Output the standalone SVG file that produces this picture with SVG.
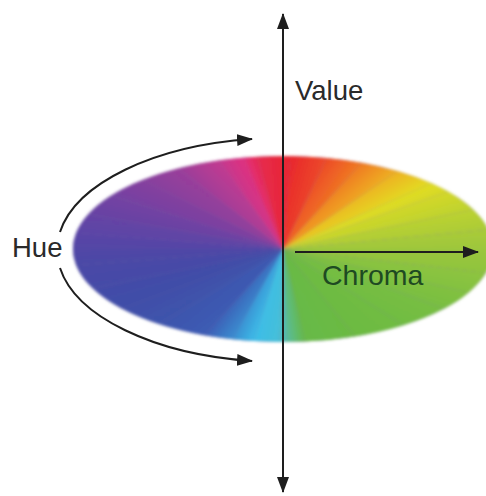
<svg xmlns="http://www.w3.org/2000/svg" width="486" height="496" viewBox="0 0 486 496">
<style>
.axis{stroke:#1e1e1e;stroke-width:2;fill:none}
.lbl{font-family:"Liberation Sans",Arial,sans-serif;font-size:27.5px}
</style>
<defs>
<filter id="soft" x="-5%" y="-10%" width="110%" height="120%"><feGaussianBlur stdDeviation="1.5"/></filter>
<marker id="ah" viewBox="0 0 16 12" refX="15" refY="6" markerWidth="16" markerHeight="12" markerUnits="userSpaceOnUse" orient="auto-start-reverse"><path d="M0,0 L16,6 L0,12 Z" fill="#1e1e1e"/></marker>
<linearGradient id="w1" gradientUnits="userSpaceOnUse" x1="100" y1="0" x2="96.59" y2="25.88"><stop offset="0" stop-color="#9cc63c"/><stop offset="1" stop-color="#8ec43e"/></linearGradient>
<linearGradient id="w2" gradientUnits="userSpaceOnUse" x1="96.59" y1="25.88" x2="88.29" y2="46.95"><stop offset="0" stop-color="#8ec43e"/><stop offset="1" stop-color="#82c140"/></linearGradient>
<linearGradient id="w3" gradientUnits="userSpaceOnUse" x1="88.29" y1="46.95" x2="76.6" y2="64.28"><stop offset="0" stop-color="#82c140"/><stop offset="1" stop-color="#78be42"/></linearGradient>
<linearGradient id="w4" gradientUnits="userSpaceOnUse" x1="76.6" y1="64.28" x2="57.36" y2="81.92"><stop offset="0" stop-color="#78be42"/><stop offset="1" stop-color="#70bc42"/></linearGradient>
<linearGradient id="w5" gradientUnits="userSpaceOnUse" x1="57.36" y1="81.92" x2="34.2" y2="93.97"><stop offset="0" stop-color="#70bc42"/><stop offset="1" stop-color="#6cba42"/></linearGradient>
<linearGradient id="w6" gradientUnits="userSpaceOnUse" x1="34.2" y1="93.97" x2="10.45" y2="99.45"><stop offset="0" stop-color="#6cba42"/><stop offset="1" stop-color="#66b948"/></linearGradient>
<linearGradient id="w7" gradientUnits="userSpaceOnUse" x1="10.45" y1="99.45" x2="1.75" y2="99.98"><stop offset="0" stop-color="#66b948"/><stop offset="1" stop-color="#58bca0"/></linearGradient>
<linearGradient id="w8" gradientUnits="userSpaceOnUse" x1="1.75" y1="99.98" x2="-1.75" y2="99.98"><stop offset="0" stop-color="#58bca0"/><stop offset="1" stop-color="#46c0d8"/></linearGradient>
<linearGradient id="w9" gradientUnits="userSpaceOnUse" x1="-1.75" y1="99.98" x2="-13.92" y2="99.03"><stop offset="0" stop-color="#46c0d8"/><stop offset="1" stop-color="#3cbce8"/></linearGradient>
<linearGradient id="w10" gradientUnits="userSpaceOnUse" x1="-13.92" y1="99.03" x2="-24.19" y2="97.03"><stop offset="0" stop-color="#3cbce8"/><stop offset="1" stop-color="#3a8cd0"/></linearGradient>
<linearGradient id="w11" gradientUnits="userSpaceOnUse" x1="-24.19" y1="97.03" x2="-37.46" y2="92.72"><stop offset="0" stop-color="#3a8cd0"/><stop offset="1" stop-color="#3c5cb4"/></linearGradient>
<linearGradient id="w12" gradientUnits="userSpaceOnUse" x1="-37.46" y1="92.72" x2="-58.78" y2="80.9"><stop offset="0" stop-color="#3c5cb4"/><stop offset="1" stop-color="#3e54ac"/></linearGradient>
<linearGradient id="w13" gradientUnits="userSpaceOnUse" x1="-58.78" y1="80.9" x2="-76.6" y2="64.28"><stop offset="0" stop-color="#3e54ac"/><stop offset="1" stop-color="#3f4ea8"/></linearGradient>
<linearGradient id="w14" gradientUnits="userSpaceOnUse" x1="-76.6" y1="64.28" x2="-90.63" y2="42.26"><stop offset="0" stop-color="#3f4ea8"/><stop offset="1" stop-color="#444ba7"/></linearGradient>
<linearGradient id="w15" gradientUnits="userSpaceOnUse" x1="-90.63" y1="42.26" x2="-98.48" y2="17.36"><stop offset="0" stop-color="#444ba7"/><stop offset="1" stop-color="#4a48a6"/></linearGradient>
<linearGradient id="w16" gradientUnits="userSpaceOnUse" x1="-98.48" y1="17.36" x2="-100" y2="0"><stop offset="0" stop-color="#4a48a6"/><stop offset="1" stop-color="#5246a6"/></linearGradient>
<linearGradient id="w17" gradientUnits="userSpaceOnUse" x1="-100" y1="0" x2="-98.48" y2="-17.36"><stop offset="0" stop-color="#5246a6"/><stop offset="1" stop-color="#5a44a6"/></linearGradient>
<linearGradient id="w18" gradientUnits="userSpaceOnUse" x1="-98.48" y1="-17.36" x2="-92.72" y2="-37.46"><stop offset="0" stop-color="#5a44a6"/><stop offset="1" stop-color="#6643a4"/></linearGradient>
<linearGradient id="w19" gradientUnits="userSpaceOnUse" x1="-92.72" y1="-37.46" x2="-81.92" y2="-57.36"><stop offset="0" stop-color="#6643a4"/><stop offset="1" stop-color="#7442a2"/></linearGradient>
<linearGradient id="w20" gradientUnits="userSpaceOnUse" x1="-81.92" y1="-57.36" x2="-66.91" y2="-74.31"><stop offset="0" stop-color="#7442a2"/><stop offset="1" stop-color="#863f9e"/></linearGradient>
<linearGradient id="w21" gradientUnits="userSpaceOnUse" x1="-66.91" y1="-74.31" x2="-50" y2="-86.6"><stop offset="0" stop-color="#863f9e"/><stop offset="1" stop-color="#9a3e9a"/></linearGradient>
<linearGradient id="w22" gradientUnits="userSpaceOnUse" x1="-50" y1="-86.6" x2="-30.9" y2="-95.11"><stop offset="0" stop-color="#9a3e9a"/><stop offset="1" stop-color="#c23a90"/></linearGradient>
<linearGradient id="w23" gradientUnits="userSpaceOnUse" x1="-30.9" y1="-95.11" x2="-19.08" y2="-98.16"><stop offset="0" stop-color="#c23a90"/><stop offset="1" stop-color="#e0307e"/></linearGradient>
<linearGradient id="w24" gradientUnits="userSpaceOnUse" x1="-19.08" y1="-98.16" x2="-12.19" y2="-99.25"><stop offset="0" stop-color="#e0307e"/><stop offset="1" stop-color="#e62a50"/></linearGradient>
<linearGradient id="w25" gradientUnits="userSpaceOnUse" x1="-12.19" y1="-99.25" x2="3.49" y2="-99.94"><stop offset="0" stop-color="#e62a50"/><stop offset="1" stop-color="#e8262e"/></linearGradient>
<linearGradient id="w26" gradientUnits="userSpaceOnUse" x1="3.49" y1="-99.94" x2="20.79" y2="-97.81"><stop offset="0" stop-color="#e8262e"/><stop offset="1" stop-color="#ec4a28"/></linearGradient>
<linearGradient id="w27" gradientUnits="userSpaceOnUse" x1="20.79" y1="-97.81" x2="37.46" y2="-92.72"><stop offset="0" stop-color="#ec4a28"/><stop offset="1" stop-color="#f07a22"/></linearGradient>
<linearGradient id="w28" gradientUnits="userSpaceOnUse" x1="37.46" y1="-92.72" x2="54.46" y2="-83.87"><stop offset="0" stop-color="#f07a22"/><stop offset="1" stop-color="#eeb020"/></linearGradient>
<linearGradient id="w29" gradientUnits="userSpaceOnUse" x1="54.46" y1="-83.87" x2="70.71" y2="-70.71"><stop offset="0" stop-color="#eeb020"/><stop offset="1" stop-color="#e2dc22"/></linearGradient>
<linearGradient id="w30" gradientUnits="userSpaceOnUse" x1="70.71" y1="-70.71" x2="78.8" y2="-61.57"><stop offset="0" stop-color="#e2dc22"/><stop offset="1" stop-color="#d4d828"/></linearGradient>
<linearGradient id="w31" gradientUnits="userSpaceOnUse" x1="78.8" y1="-61.57" x2="90.63" y2="-42.26"><stop offset="0" stop-color="#d4d828"/><stop offset="1" stop-color="#bcd230"/></linearGradient>
<linearGradient id="w32" gradientUnits="userSpaceOnUse" x1="90.63" y1="-42.26" x2="97.81" y2="-20.79"><stop offset="0" stop-color="#bcd230"/><stop offset="1" stop-color="#aacb38"/></linearGradient>
<linearGradient id="w33" gradientUnits="userSpaceOnUse" x1="97.81" y1="-20.79" x2="100" y2="0"><stop offset="0" stop-color="#aacb38"/><stop offset="1" stop-color="#9cc63c"/></linearGradient>
</defs>
<rect width="486" height="496" fill="#ffffff"/>
<g id="wheel" filter="url(#soft)">
<g transform="translate(283,249) scale(2.1,0.93)">
<circle r="100" fill="#7a6aa0"/>
<path d="M0,0 L100,0 A100,100 0 0 1 96.59,25.88 Z" fill="url(#w1)"/>
<path d="M0,0 L96.59,25.88 A100,100 0 0 1 88.29,46.95 Z" fill="url(#w2)"/>
<path d="M0,0 L88.29,46.95 A100,100 0 0 1 76.6,64.28 Z" fill="url(#w3)"/>
<path d="M0,0 L76.6,64.28 A100,100 0 0 1 57.36,81.92 Z" fill="url(#w4)"/>
<path d="M0,0 L57.36,81.92 A100,100 0 0 1 34.2,93.97 Z" fill="url(#w5)"/>
<path d="M0,0 L34.2,93.97 A100,100 0 0 1 10.45,99.45 Z" fill="url(#w6)"/>
<path d="M0,0 L10.45,99.45 A100,100 0 0 1 1.75,99.98 Z" fill="url(#w7)"/>
<path d="M0,0 L1.75,99.98 A100,100 0 0 1 -1.75,99.98 Z" fill="url(#w8)"/>
<path d="M0,0 L-1.75,99.98 A100,100 0 0 1 -13.92,99.03 Z" fill="url(#w9)"/>
<path d="M0,0 L-13.92,99.03 A100,100 0 0 1 -24.19,97.03 Z" fill="url(#w10)"/>
<path d="M0,0 L-24.19,97.03 A100,100 0 0 1 -37.46,92.72 Z" fill="url(#w11)"/>
<path d="M0,0 L-37.46,92.72 A100,100 0 0 1 -58.78,80.9 Z" fill="url(#w12)"/>
<path d="M0,0 L-58.78,80.9 A100,100 0 0 1 -76.6,64.28 Z" fill="url(#w13)"/>
<path d="M0,0 L-76.6,64.28 A100,100 0 0 1 -90.63,42.26 Z" fill="url(#w14)"/>
<path d="M0,0 L-90.63,42.26 A100,100 0 0 1 -98.48,17.36 Z" fill="url(#w15)"/>
<path d="M0,0 L-98.48,17.36 A100,100 0 0 1 -100,0 Z" fill="url(#w16)"/>
<path d="M0,0 L-100,0 A100,100 0 0 1 -98.48,-17.36 Z" fill="url(#w17)"/>
<path d="M0,0 L-98.48,-17.36 A100,100 0 0 1 -92.72,-37.46 Z" fill="url(#w18)"/>
<path d="M0,0 L-92.72,-37.46 A100,100 0 0 1 -81.92,-57.36 Z" fill="url(#w19)"/>
<path d="M0,0 L-81.92,-57.36 A100,100 0 0 1 -66.91,-74.31 Z" fill="url(#w20)"/>
<path d="M0,0 L-66.91,-74.31 A100,100 0 0 1 -50,-86.6 Z" fill="url(#w21)"/>
<path d="M0,0 L-50,-86.6 A100,100 0 0 1 -30.9,-95.11 Z" fill="url(#w22)"/>
<path d="M0,0 L-30.9,-95.11 A100,100 0 0 1 -19.08,-98.16 Z" fill="url(#w23)"/>
<path d="M0,0 L-19.08,-98.16 A100,100 0 0 1 -12.19,-99.25 Z" fill="url(#w24)"/>
<path d="M0,0 L-12.19,-99.25 A100,100 0 0 1 3.49,-99.94 Z" fill="url(#w25)"/>
<path d="M0,0 L3.49,-99.94 A100,100 0 0 1 20.79,-97.81 Z" fill="url(#w26)"/>
<path d="M0,0 L20.79,-97.81 A100,100 0 0 1 37.46,-92.72 Z" fill="url(#w27)"/>
<path d="M0,0 L37.46,-92.72 A100,100 0 0 1 54.46,-83.87 Z" fill="url(#w28)"/>
<path d="M0,0 L54.46,-83.87 A100,100 0 0 1 70.71,-70.71 Z" fill="url(#w29)"/>
<path d="M0,0 L70.71,-70.71 A100,100 0 0 1 78.8,-61.57 Z" fill="url(#w30)"/>
<path d="M0,0 L78.8,-61.57 A100,100 0 0 1 90.63,-42.26 Z" fill="url(#w31)"/>
<path d="M0,0 L90.63,-42.26 A100,100 0 0 1 97.81,-20.79 Z" fill="url(#w32)"/>
<path d="M0,0 L97.81,-20.79 A100,100 0 0 1 100,0 Z" fill="url(#w33)"/>
</g>
</g>
<g id="connectors">
<line class="axis" x1="283" y1="14" x2="283" y2="492" marker-start="url(#ah)" marker-end="url(#ah)"/>
<line class="axis" x1="295" y1="252" x2="478" y2="252" marker-end="url(#ah)"/>
<path class="axis" d="M60,232 A225,112 0 0 1 252,139" marker-end="url(#ah)"/>
<path class="axis" d="M60,268 A225,112 0 0 0 252,361" marker-end="url(#ah)"/>
</g>
<g id="value"><text class="lbl" x="295" y="100" fill="#2a2a2a">Value</text></g>
<g id="hue"><text class="lbl" x="12" y="257" fill="#2a2a2a">Hue</text></g>
<g id="chroma"><text class="lbl" x="322" y="285" fill="#1e4a22" style="font-size:28.5px">Chroma</text></g>
</svg>
